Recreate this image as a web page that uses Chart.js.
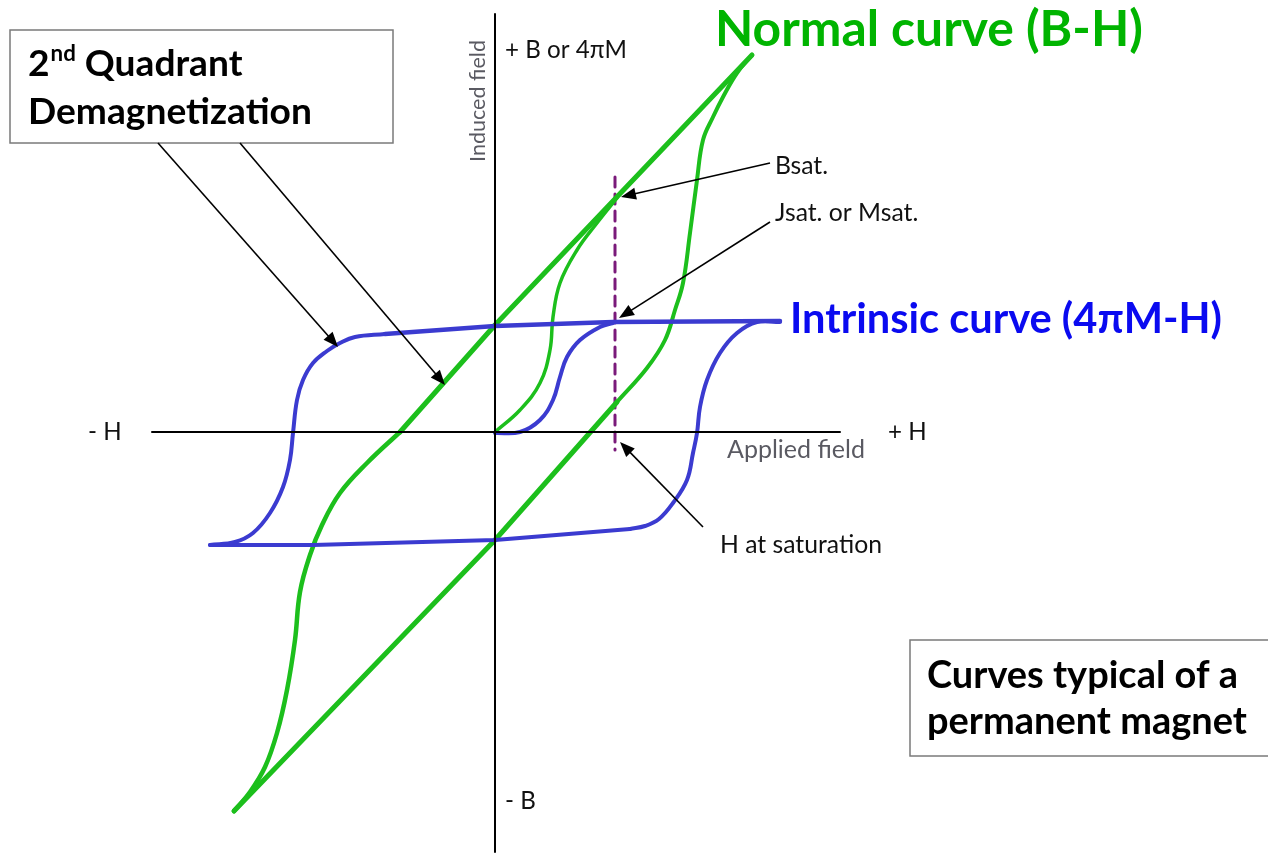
<!DOCTYPE html>
<html><head><meta charset="utf-8">
<script src="https://cdn.jsdelivr.net/npm/chart.js@4/dist/chart.umd.min.js"></script>
<style>html,body{margin:0;padding:0;background:#fff}#wrap{width:1268px;height:854px;position:relative}</style>
</head><body><div id="wrap"><canvas id="c"></canvas></div>
<script>
// Data in (H, B) units, origin at the axes crossing
const greenUpperStraight = [[257,377],[0,107],[-95,0]];
const greenUpperCurve = [[-95,0],[-128,-31],[-155,-61],[-173,-93],[-185,-123],[-195,-160],[-200,-208],[-208,-258],[-218,-301],[-230,-335],[-245,-360],[-261,-379]];
const greenLowerStraight = [[-261,-379],[0,-108],[122,30]];
const greenRightCurve = [[122,30],[152,64],[170,92],[180,122],[188,149],[195,199],[202,252],[208,292],[218,315],[228,335],[242,359],[257,377]];
const greenInitial = [[0,0],[25,22],[45,49],[55,82],[58,115],[65,149],[82,182],[102,209],[122,234]];

const blueTop = [[-110,98],[0,106],[118,110],[285,111]];
const blueLeft = [[-110,98],[-140,95],[-155,89],[-168,81],[-182,69],[-192,52],[-198,32],[-202,-1],[-205,-28],[-212,-55],[-225,-81],[-242,-101],[-260,-110],[-285,-113]];
const blueBottom = [[-285,-113],[-182,-113],[0,-108],[135,-97]];
const blueRight = [[135,-97],[150,-94],[164,-87],[178,-71],[192,-48],[198,-21],[202,-1],[205,25],[212,52],[225,79],[242,99],[262,110],[285,110]];
const blueInitial = [[0,-1],[25,0],[45,12],[58,32],[65,55],[72,75],[85,92],[105,105],[118,109]];

const hSatLine = [[120,255],[120,-18]];
const axisH = [[-343,0],[345,0]];
const axisB = [[0,418],[0,-420]];

const axisLabels = ["- H","+ H","+ B or 4πM","- B","Applied field","Induced field"];
const noteLabels = ["Bsat.","Jsat. or Msat.","H at saturation"];
const titleNormal = "Normal curve (B-H)";
const titleIntrinsic = "Intrinsic curve (4πM-H)";
const box1Lines = ["Quadrant","Demagnetization"];
const box2Lines = ["Curves typical of a","permanent magnet"];

const GREEN = '#1cbf1c', BLUE = '#3b3bd0';
function pts(a){return a.map(p=>({x:p[0],y:p[1]}));}
function ds(data,color,w,tension,dash){return {data:pts(data),borderColor:color,borderWidth:w,showLine:true,pointRadius:0,tension:tension,fill:false,borderDash:dash||[],borderCapStyle:'round',borderJoinStyle:'round'};}

const FAM = 'Lato, "Open Sans", sans-serif';
function fit(ctx,text,w,weight){ctx.font=`${weight} 100px ${FAM}`;return 100*w/ctx.measureText(text).width;}

const annot = {
  id:'annot',
  afterDatasetsDraw(chart){
    const ctx=chart.ctx, sx=chart.scales.x, sy=chart.scales.y;
    const X=v=>sx.getPixelForValue(v), Y=v=>sy.getPixelForValue(v);
    ctx.save();
    ctx.textBaseline='middle';ctx.textAlign='left';
    function txt(t,h,b,w,weight,color){const s=fit(ctx,t,w,weight);ctx.font=`${weight} ${s}px ${FAM}`;ctx.fillStyle=color;ctx.fillText(t,X(h),Y(b));}
    function lbl(t,h,b,size,color){ctx.font=`normal ${size}px ${FAM}`;ctx.fillStyle=color;ctx.fillText(t,X(h),Y(b));}
    function arrow(h1,b1,h2,b2){
      const x1=X(h1),y1=Y(b1),x2=X(h2),y2=Y(b2);
      const a=Math.atan2(y2-y1,x2-x1),L=15,W=6;
      ctx.strokeStyle='#000';ctx.lineWidth=1.6;
      ctx.beginPath();ctx.moveTo(x1,y1);ctx.lineTo(x2-Math.cos(a)*L*0.8,y2-Math.sin(a)*L*0.8);ctx.stroke();
      ctx.fillStyle='#000';ctx.beginPath();ctx.moveTo(x2,y2);
      ctx.lineTo(x2-L*Math.cos(a)+W*Math.sin(a),y2-L*Math.sin(a)-W*Math.cos(a));
      ctx.lineTo(x2-L*Math.cos(a)-W*Math.sin(a),y2-L*Math.sin(a)+W*Math.cos(a));
      ctx.closePath();ctx.fill();
    }
    // boxes
    ctx.strokeStyle='#7a7a7a';ctx.lineWidth=1.5;
    ctx.strokeRect(X(-485),Y(402),X(-102)-X(-485),Y(289)-Y(402));
    ctx.strokeRect(X(415),Y(-208),X(790)-X(415),Y(-324)-Y(-208));
    // box1 text with superscript
    {
      const s=fit(ctx,"Demagnetization",284,'bold');
      ctx.fillStyle='#000';
      ctx.font=`bold ${s}px ${FAM}`;
      let x=X(-467);const y=Y(368);
      ctx.fillText("2",x,y);x+=ctx.measureText("2").width;
      ctx.font=`bold ${s*0.6}px ${FAM}`;
      ctx.fillText("nd",x+1,y-s*0.28);x+=ctx.measureText("nd").width+1;
      ctx.font=`bold ${s}px ${FAM}`;
      ctx.fillText(" "+box1Lines[0],x,y);
      ctx.fillText(box1Lines[1],X(-467),Y(320));
    }
    {
      const s=fit(ctx,box2Lines[1],320,'bold');
      ctx.font=`bold ${s}px ${FAM}`;ctx.fillStyle='#000';
      ctx.fillText(box2Lines[0],X(432),Y(-244));
      ctx.fillText(box2Lines[1],X(432),Y(-290));
    }
    txt(titleNormal,220,402,428,'bold','#00b400');
    txt(titleIntrinsic,295,112,432,'bold','#0a0af0');
    const sAx=fit(ctx,axisLabels[2],122,'normal');
    lbl(axisLabels[0],-407,0,sAx,'#111');
    lbl(axisLabels[1],393,0,sAx,'#111');
    lbl(axisLabels[2],10,382,sAx,'#111');
    lbl(axisLabels[3],10,-369,sAx,'#111');
    const sAf=fit(ctx,axisLabels[4],138,'normal');
    lbl(axisLabels[4],232,-18,sAf,'#5a5a62');
    {
      const sIf=fit(ctx,axisLabels[5],122,'normal');
      ctx.save();ctx.translate(X(-17),Y(331));ctx.rotate(-Math.PI/2);
      ctx.font=`normal ${sIf}px ${FAM}`;ctx.fillStyle='#5a5a62';ctx.textAlign='center';
      ctx.fillText(axisLabels[5],0,0);ctx.restore();
    }
    const sN=fit(ctx,noteLabels[2],162,'normal');
    lbl(noteLabels[0],280,266,sN,'#111');
    lbl(noteLabels[1],280,219,sN,'#111');
    lbl(noteLabels[2],225,-113,sN,'#111');
    arrow(-337,289,-157,85);
    arrow(-255,289,-50,47);
    arrow(275,269,126,235);
    arrow(275,210,124,114);
    arrow(208,-95,125,-10);
    ctx.restore();
  }
};

new Chart(document.getElementById('c'),{
  type:'scatter',
  data:{datasets:[
    ds(axisH,'#000',2,0),
    ds(axisB,'#000',2,0),
    ds(blueTop,BLUE,4.5,0),
    ds(blueLeft,BLUE,4,0.4),
    ds(blueBottom,BLUE,4,0),
    ds(blueRight,BLUE,4,0.4),
    ds(blueInitial,BLUE,4,0.4),
    ds(greenUpperStraight,GREEN,5,0),
    ds(greenUpperCurve,GREEN,4.5,0.4),
    ds(greenLowerStraight,GREEN,5,0),
    ds(greenRightCurve,GREEN,4,0.4),
    ds(greenInitial,GREEN,3.5,0.4),
    ds(hSatLine,'#7a1a7a',3,0,[10,7])
  ]},
  options:{
    responsive:true,maintainAspectRatio:false,animation:false,
    layout:{padding:0},
    plugins:{legend:{display:false},tooltip:{enabled:false}},
    scales:{
      x:{type:'linear',display:false,min:-495,max:773},
      y:{type:'linear',display:false,min:-422,max:432}
    }
  },
  plugins:[annot]
});
</script></body></html>
